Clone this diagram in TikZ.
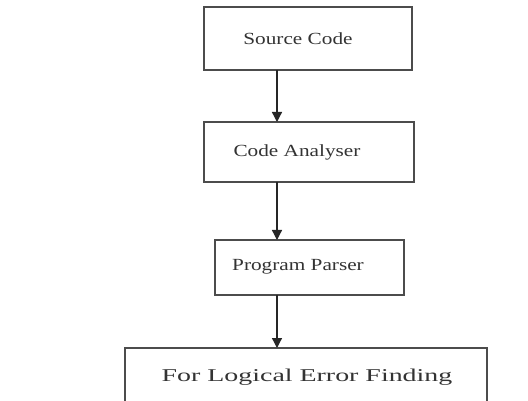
\documentclass[tikz,border=0pt]{standalone}
\usepackage{fontspec}
\setmainfont{Liberation Serif}
\usetikzlibrary{arrows.meta}
\begin{document}
\begin{tikzpicture}[x=1pt,y=-1pt,
  boxline/.style={draw=black!70, line width=1.4pt},
  lbl/.style={font=\fontsize{17}{20}\selectfont, text=black!80, inner sep=0pt, xscale=1.25},
  biglbl/.style={font=\fontsize{18}{21}\selectfont, text=black!80, inner sep=0pt, xscale=1.55},
  conn/.style={draw=black!85, line width=1.3pt, -{Triangle[length=10pt,width=10pt]}}]
\useasboundingbox (0,0) rectangle (528,401);
\clip (0,0) rectangle (528,401);
\path[fill=white] (0,0) rectangle (528,401);
% boxes
\draw[boxline] (204,7) rectangle (412,70);
\draw[boxline] (204,122) rectangle (414,182);
\draw[boxline] (215,240) rectangle (404,295);
\draw[boxline] (125,348) rectangle (487,410);
% labels
\node[lbl] (src) at (298,39) {Source Code};
\node[lbl] (ana) at (297,152) {Code Analyser};
\node[lbl] (par) at (298,267) {Program Parser};
\node[biglbl] (log) at (307,377) {For Logical Error Finding};
% connector anchors
\coordinate (s1) at (277,70);
\coordinate (e1) at (277,122);
\coordinate (s2) at (277,182);
\coordinate (e2) at (277,240);
\coordinate (s3) at (277,295);
\coordinate (e3) at (277,348);
\draw[conn] (s1) -- (e1);
\draw[conn] (s2) -- (e2);
\draw[conn] (s3) -- (e3);
\end{tikzpicture}
\end{document}
